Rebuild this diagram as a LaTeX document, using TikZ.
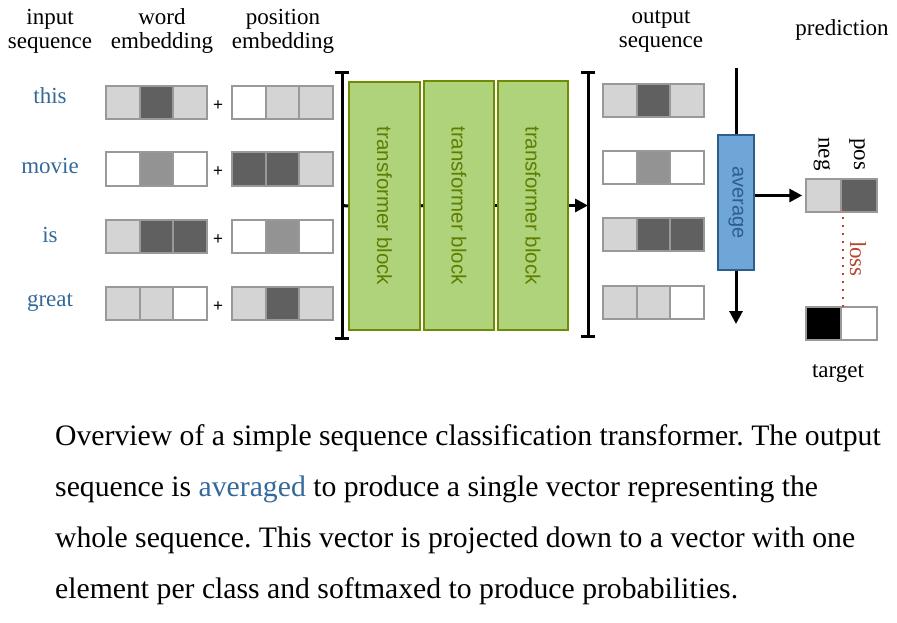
\documentclass[tikz,border=0pt]{standalone}
\usepackage{fontspec}
\setmainfont{Liberation Serif}
\newfontfamily\blocksans{Liberation Sans}
\usetikzlibrary{arrows.meta}
\frenchspacing
\definecolor{cL}{HTML}{D4D4D4}
\definecolor{cD}{HTML}{606060}
\definecolor{cM}{HTML}{939393}
\definecolor{cW}{HTML}{FFFFFF}
\definecolor{cK}{HTML}{000000}
\definecolor{cellborder}{HTML}{999999}
\definecolor{wordblue}{HTML}{34699A}
\definecolor{lossred}{HTML}{B8452E}
\definecolor{tfill}{HTML}{AED37B}
\definecolor{tborder}{HTML}{6F8C05}
\definecolor{ttext}{HTML}{5F7D00}
\definecolor{afill}{HTML}{6FA6D8}
\definecolor{aborder}{HTML}{2D5E8C}
\tikzset{
  cell/.style={draw=cellborder, line width=2pt, minimum width=33.5pt, minimum height=33pt, inner sep=0pt},
  pcell/.style={draw=cellborder, line width=2pt, minimum width=35.5pt, minimum height=33pt, inner sep=0pt},
  head/.style={font=\fontsize{23}{24}\selectfont, align=center, inner sep=0pt},
  word/.style={font=\fontsize{23}{24}\selectfont, text=wordblue, inner sep=0pt},
  plus/.style={font=\blocksans\fontsize{17}{18}\selectfont, inner sep=0pt},
  tblock/.style={draw=tborder, fill=tfill, line width=2pt, rotate=-90, minimum width=248pt, minimum height=70pt, inner sep=0pt, text=ttext, font=\blocksans\fontsize{20.5}{22}\selectfont},
  avgblock/.style={draw=aborder, fill=afill, line width=2pt, rotate=-90, minimum width=135pt, minimum height=36pt, inner sep=0pt, text=aborder, font=\blocksans\fontsize{20}{22}\selectfont},
  bar/.style={line width=3pt, black},
  conn/.style={line width=3pt, black},
  arr/.style={line width=3pt, black, -{Triangle[length=13pt,width=13pt]}},
  caption/.style={font=\fontsize{29.7}{30}\selectfont, anchor=base west, inner sep=0pt},
}
\begin{document}
\begin{tikzpicture}[x=1pt,y=-1pt]
\useasboundingbox (0,0) rectangle (897,623);
% headers
\node[head] (h1) at (50,31.5) {input\\sequence};
\node[head] (h2) at (162,31.5) {word\\embedding};
\node[head] (h3) at (283,31.5) {position\\embedding};
\node[head] (h4) at (661,31.5) {output\\sequence};
\node[head] (h5) at (842,30) {prediction};
% words
\node[word] (w-this) at (50,96) {this};
\node[word] (w-movie) at (50,166) {movie};
\node[word] (w-is) at (50,235) {is};
\node[word] (w-great) at (50,303) {great};
% word embeddings
\foreach \n/\y/\a/\b/\c in {1/102.5/L/D/L, 2/169/W/M/W, 3/236.5/L/D/D, 4/303.5/L/L/W}{
  \node[cell, fill=c\a] (we\n-1) at (122.75,\y) {};
  \node[cell, fill=c\b] (we\n-2) at (156.25,\y) {};
  \node[cell, fill=c\c] (we\n-3) at (189.75,\y) {};
  \node[plus] (plus\n) at (218,\y+3) {+};
}
% position embeddings
\foreach \n/\y/\a/\b/\c in {1/102.5/W/L/L, 2/169/D/D/L, 3/236.5/W/M/W, 4/303.5/L/D/L}{
  \node[cell, fill=c\a] (pe\n-1) at (248.75,\y) {};
  \node[cell, fill=c\b] (pe\n-2) at (282.25,\y) {};
  \node[cell, fill=c\c] (pe\n-3) at (315.75,\y) {};
}
% output sequence
\foreach \n/\y/\a/\b/\c in {1/100.5/L/D/L, 2/167.5/W/M/W, 3/234.5/L/D/D, 4/302/L/L/W}{
  \node[cell, fill=c\a] (os\n-1) at (619.75,\y) {};
  \node[cell, fill=c\b] (os\n-2) at (653.25,\y) {};
  \node[cell, fill=c\c] (os\n-3) at (686.75,\y) {};
}
% left bracket
\coordinate (lbt) at (342,73);
\coordinate (lbb) at (342,338);
\coordinate (lbm) at (342,205.5);
\draw[bar] (lbt) -- (lbb);
\draw[bar] ([xshift=-7pt]lbt) -- ([xshift=7pt]lbt);
\draw[bar] ([xshift=-7pt]lbb) -- ([xshift=7pt]lbb);
% right bracket
\coordinate (rbt) at (588,73);
\coordinate (rbb) at (588,336);
\coordinate (rbm) at (588,205.5);
\draw[bar] (rbt) -- (rbb);
\draw[bar] ([xshift=-7pt]rbt) -- ([xshift=7pt]rbt);
\draw[bar] ([xshift=-7pt]rbb) -- ([xshift=7pt]rbb);
% transformer blocks
\node[tblock, minimum height=71pt] (t1) at (384.5,206) {transformer block};
\node[tblock] (t2) at (459,205.5) {transformer block};
\node[tblock] (t3) at (533,205.5) {transformer block};
\draw[conn] (lbm) -- (t1.south);
\draw[conn] (t1.north) -- (t2.south);
\draw[conn] (t2.north) -- (t3.south);
\draw[arr] (t3.north) -- (rbm);
% average
\node[avgblock] (avg) at (736,202.5) {average};
\coordinate (avgtop) at (736,68);
\coordinate (avgbot) at (736,324);
\draw[conn] (avgtop) -- (avg.west);
\draw[arr] (avg.east) -- (avgbot);
% prediction
\node[pcell, fill=cL] (pr1) at (824,195.5) {};
\node[pcell, fill=cD] (pr2) at (859,195.5) {};
\draw[arr] (avg.north |- pr1.west) -- ([xshift=-3pt]pr1.west);
\node[head, rotate=-90] (neg) at (822,154) {neg};
\node[head, rotate=-90] (pos) at (857,154) {pos};
% target
\node[pcell, fill=cK] (tg1) at (824,323) {};
\node[pcell, fill=cW] (tg2) at (859,323) {};
\node[head] (tgt) at (838,374) {target};
\draw[lossred, line width=2pt, dash pattern=on 2pt off 6pt] ([yshift=4pt]pr1.south east) -- ([yshift=-2pt]tg1.north east);
\node[head, rotate=-90, text=lossred] (loss) at (858,259) {loss};
% caption
\node[caption] (c1) at (55,445) {Overview of a simple sequence classification transformer. The output};
\node[caption] (c2) at (55,496) {sequence is \textcolor{wordblue}{averaged} to produce a single vector representing the};
\node[caption] (c3) at (55,547) {whole sequence. This vector is projected down to a vector with one};
\node[caption] (c4) at (55,598) {element per class and softmaxed to produce probabilities.};
\end{tikzpicture}
\end{document}
